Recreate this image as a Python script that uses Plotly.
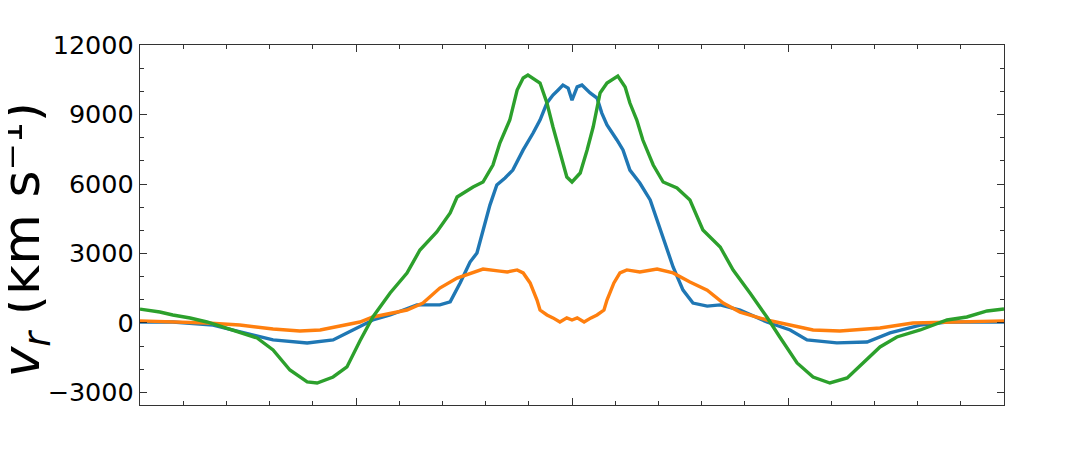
import plotly.graph_objects as go

# Blue series (C0)
blue_x = [-1.000, -0.924, -0.831, -0.769, -0.692, -0.613, -0.553, -0.521, -0.498, -0.461,
          -0.421, -0.359, -0.306, -0.282, -0.259, -0.236, -0.220, -0.206, -0.190, -0.174,
          -0.155, -0.137, -0.113, -0.090, -0.074, -0.058, -0.044, -0.032, -0.021, -0.009,
          0.000, 0.012, 0.023, 0.042, 0.058, 0.069, 0.081, 0.104, 0.118, 0.134,
          0.157, 0.181, 0.204, 0.220, 0.234, 0.257, 0.280, 0.313, 0.343, 0.389,
          0.451, 0.505, 0.544, 0.613, 0.683, 0.736, 0.806, 0.868, 1.000]
blue_y = [40, 40, -90, -390, -730, -860, -730, -430, -215, 130,
          345, 780, 780, 910, 1730, 2630, 3020, 4010, 5090, 5960,
          6260, 6600, 7470, 8200, 8760, 9500, 9840, 10060, 10270, 10140,
          9620, 10190, 10270, 9930, 9710, 9060, 8550, 7900, 7470, 6600,
          6040, 5310, 4100, 3150, 2420, 1420, 860, 730, 780, 560,
          43, -300, -730, -860, -820, -430, -90, 40, 40]

# Orange series (C1)
orange_x = [-1.000, -0.845, -0.769, -0.692, -0.630, -0.583, -0.537, -0.491, -0.461, -0.382,
            -0.345, -0.306, -0.266, -0.229, -0.206, -0.167, -0.150, -0.127, -0.113, -0.097,
            -0.081, -0.074, -0.058, -0.044, -0.028, -0.012, 0.000, 0.012, 0.028, 0.044,
            0.058, 0.074, 0.081, 0.097, 0.111, 0.127, 0.157, 0.197, 0.234, 0.273,
            0.313, 0.350, 0.389, 0.451, 0.505, 0.558, 0.620, 0.713, 0.789, 0.868, 1.000]
orange_y = [90, 0, -86, -260, -345, -300, -130, 43, 260, 560,
            860, 1510, 1940, 2200, 2330, 2240, 2200, 2290, 2160, 1730,
            990, 560, 345, 220, 40, 220, 130, 220, 40, 220,
            345, 560, 990, 1730, 2160, 2290, 2200, 2330, 2160, 1770,
            1420, 860, 470, 130, -86, -300, -345, -215, 0, 40, 90]

# Green series (C2)
green_x = [-1.000, -0.954, -0.924, -0.884, -0.845, -0.808, -0.769, -0.729, -0.692, -0.653,
           -0.613, -0.590, -0.553, -0.521, -0.491, -0.461, -0.421, -0.382, -0.352, -0.313,
           -0.282, -0.266, -0.229, -0.206, -0.183, -0.167, -0.144, -0.127, -0.113, -0.102,
           -0.074, -0.058, -0.044, -0.028, -0.012, 0.000, 0.019, 0.035, 0.049, 0.065,
           0.081, 0.106, 0.123, 0.134, 0.150, 0.164, 0.188, 0.211, 0.243, 0.273,
           0.303, 0.343, 0.373, 0.412, 0.451, 0.481, 0.521, 0.558, 0.597, 0.637,
           0.674, 0.713, 0.752, 0.806, 0.868, 0.914, 0.961, 1.000]
green_y = [600, 475, 345, 216, 43, -173, -388, -647, -1165, -2029,
           -2546, -2590, -2331, -1899, -777, 259, 1295, 2158, 3151, 3928,
           4748, 5438, 5870, 6086, 6819, 7769, 8761, 10056, 10574, 10704,
           10358, 9495, 8459, 7337, 6301, 6086, 6474, 7467, 8459, 9927,
           10358, 10660, 10186, 9495, 8761, 7898, 6819, 6086, 5827, 5309,
           4014, 3280, 2287, 1295, 259, -604, -1726, -2331, -2590, -2374,
           -1726, -1036, -604, -302, 130, 259, 518, 604]

y_tickvals = [-3000, 0, 3000, 6000, 9000, 12000]
y_ticktext = ["\u22123000", "0", "3000", "6000", "9000", "12000"]

fig = go.Figure()
fig.add_trace(go.Scatter(x=blue_x, y=blue_y, mode="lines",
                         line=dict(color="#1f77b4", width=3.4), showlegend=False))
fig.add_trace(go.Scatter(x=orange_x, y=orange_y, mode="lines",
                         line=dict(color="#ff7f0e", width=3.4), showlegend=False))
fig.add_trace(go.Scatter(x=green_x, y=green_y, mode="lines",
                         line=dict(color="#2ca02c", width=3.4), showlegend=False))

axis_common = dict(showgrid=False, zeroline=False, showline=True, linecolor="#333333",
                   linewidth=1.2, mirror="allticks", ticks="inside", tickcolor="#333333",
                   ticklen=7, tickwidth=1.2)

fig.update_xaxes(range=[-1, 1], tickmode="linear", tick0=-1, dtick=0.5,
                 showticklabels=False,
                 minor=dict(ticks="inside", dtick=0.1, ticklen=4, tickcolor="#333333",
                            tickwidth=1),
                 **axis_common)
fig.update_yaxes(range=[-3540, 12000], tickmode="array", tickvals=y_tickvals,
                 ticktext=y_ticktext,
                 tickfont=dict(family="DejaVu Sans", size=25.5, color="black"),
                 minor=dict(ticks="inside", tickmode="linear", tick0=0, dtick=1000,
                            ticklen=4, tickcolor="#333333", tickwidth=1),
                 **axis_common)

fig.add_annotation(text="<i>v</i><sub><i>r</i></sub> (km s\u207b\u00b9)",
                   xref="paper", yref="paper", x=-0.133, y=0.46, textangle=-90,
                   showarrow=False, xanchor="center", yanchor="middle",
                   font=dict(family="DejaVu Sans", size=52, color="black"))

# page body adds an 8px offset; margins compensate so the plot area sits at 140..1004 x 45..405
fig.update_layout(width=1080, height=450, paper_bgcolor="white", plot_bgcolor="white",
                  margin=dict(l=132, r=84, t=37, b=53), showlegend=False)

fig.write_html("out.html")
